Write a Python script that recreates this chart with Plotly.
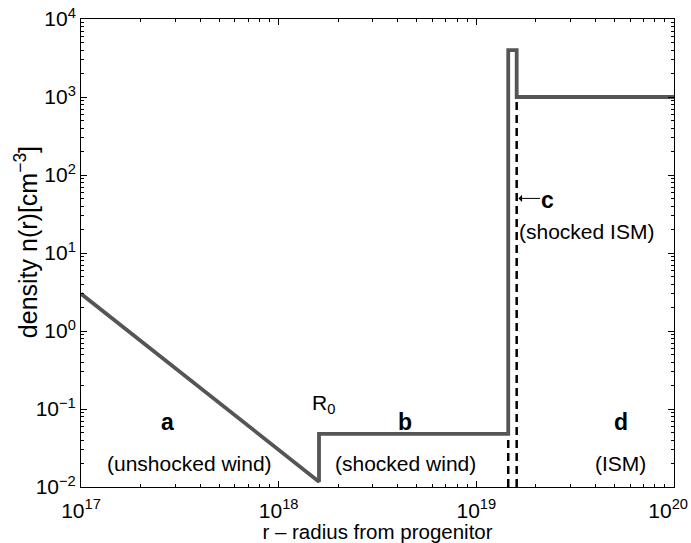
import plotly.graph_objects as go

# density profile (solid line)
r_profile = [1e17, 1.6e18, 1.6e18, 1.45e19, 1.45e19, 1.6e19, 1.6e19, 1e20]
n_profile = [3.0, 0.0117, 0.048, 0.048, 4000, 4000, 1000, 1000]

# dashed boundaries of the shocked-ISM shell
r_dash1 = [1.45e19, 1.45e19]
n_dash1 = [0.01, 0.048]
r_dash2 = [1.6e19, 1.6e19]
n_dash2 = [0.01, 1000]

# tick labels
x_exponents = [17, 18, 19, 20]
y_exponents = [-2, -1, 0, 1, 2, 3, 4]

FONT = "Liberation Sans, Arial, Helvetica, sans-serif"


def minor_vals(exps):
    return [m * 10.0 ** e for e in exps[:-1] for m in range(2, 10)]


def labels(exps, pad_last=False):
    out = [f"10<sup>{e}</sup>".replace("-", "\u2212") for e in exps]
    if pad_last:
        out[-1] = out[-1] + "&nbsp;&nbsp;"
    return out


fig = go.Figure()
fig.add_trace(go.Scatter(x=r_dash1, y=n_dash1, mode="lines",
                         line=dict(color="black", width=2.5, dash="8px,5px"),
                         hoverinfo="skip", showlegend=False))
fig.add_trace(go.Scatter(x=r_dash2, y=n_dash2, mode="lines",
                         line=dict(color="black", width=2.5, dash="8px,5px"),
                         hoverinfo="skip", showlegend=False))
fig.add_trace(go.Scatter(x=r_profile, y=n_profile, mode="lines",
                         line=dict(color="#555555", width=3.8),
                         showlegend=False))

ann = []


def txt(x, y, s, size=21, bold=False, xanchor="center"):
    ann.append(dict(x=x, y=y, xref="x", yref="y", text=(f"<b>{s}</b>" if bold else s),
                    showarrow=False, xanchor=xanchor,
                    font=dict(family=FONT, size=size, color="black")))


txt(17.44, -1.17, "a", 23, True)
txt(17.551, -1.70, "(unshocked wind)")
txt(18.225, -0.93, "R<sub>0</sub>")
txt(18.64, -1.17, "b", 23, True)
txt(18.641, -1.70, "(shocked wind)")
txt(19.73, -1.17, "d", 23, True)
txt(19.731, -1.70, "(ISM)")
txt(19.362, 1.68, "c", 23, True)
txt(19.205, 1.27, "(shocked ISM)", xanchor="left")
ann.append(dict(x=19.213, y=1.70, ax=19.33, ay=1.70, xref="x", yref="y",
                axref="x", ayref="y", text="", showarrow=True,
                arrowhead=1, arrowsize=1.2, arrowwidth=1, arrowcolor="black"))
# y-axis title placed as a rotated annotation for exact positioning
ann.append(dict(x=-0.0925, y=0.5235, xref="paper", yref="paper", xanchor="center",
                yanchor="middle", textangle=-90, showarrow=False,
                text="density n(r)[cm<sup>\u22123</sup>]",
                font=dict(family=FONT, size=25, color="black")))


def axis(exps, pad_last=False):
    return dict(type="log", showgrid=False, zeroline=False, showline=True,
                linecolor="black", linewidth=1, mirror="ticks", ticks="inside",
                ticklen=6, tickcolor="black", automargin=False,
                ticklabeloverflow="allow",
                range=[exps[0], exps[-1]],
                tickvals=[10.0 ** e for e in exps],
                ticktext=labels(exps, pad_last),
                tickfont=dict(family=FONT, size=21, color="black"),
                minor=dict(tickvals=minor_vals(exps), ticks="inside", ticklen=3,
                           tickcolor="black", showgrid=False))


xa = axis(x_exponents, pad_last=True)
xa["ticklabelstandoff"] = 5
xa["title"] = dict(text="r \u2013 radius from progenitor",
                   font=dict(family=FONT, size=20.5, color="black"), standoff=0)
ya = axis(y_exponents)

fig.update_layout(
    width=691, height=543,
    margin=dict(l=81, r=17, t=19, b=56),
    plot_bgcolor="white", paper_bgcolor="white",
    annotations=ann,
    xaxis=xa, yaxis=ya,
)
# remove the page's default body margin so the figure fills the window
fig.write_html("out.html", config={"displayModeBar": False},
               post_script="document.body.style.margin='0';document.body.style.overflow='hidden';")
